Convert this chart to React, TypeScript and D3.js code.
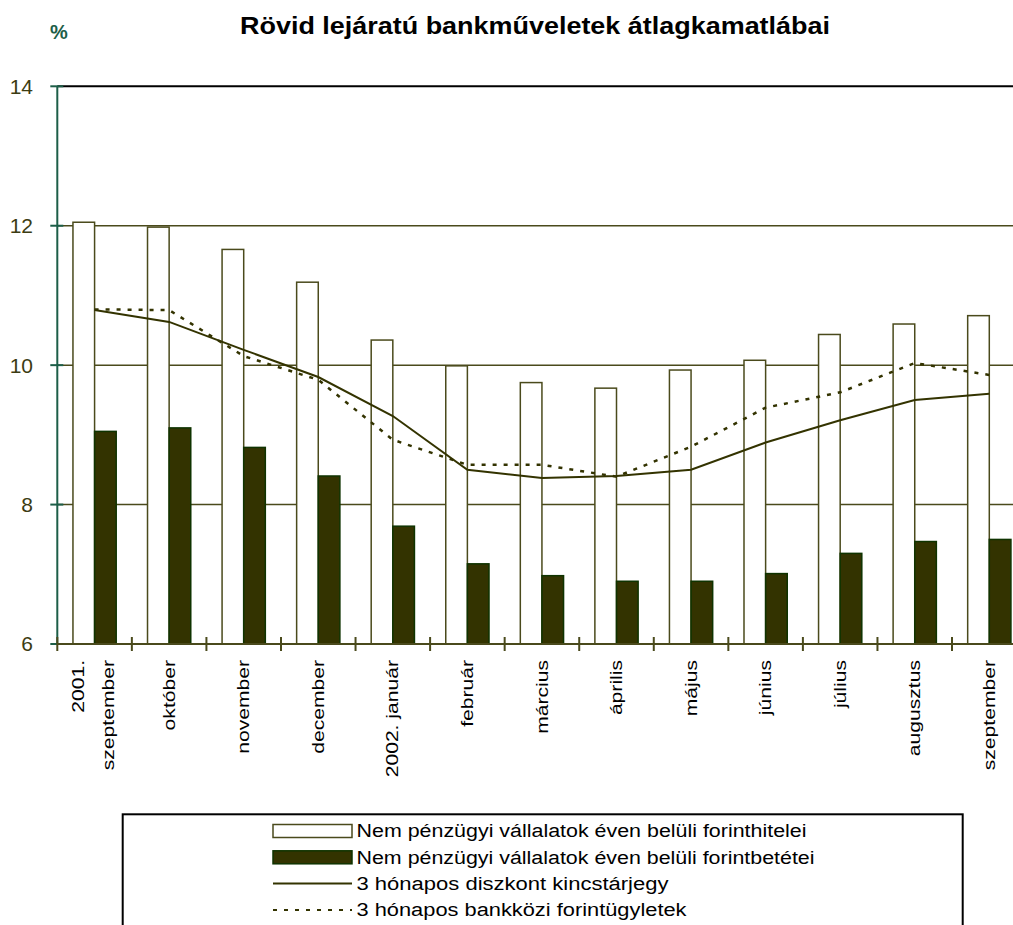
import React from "react";
import * as d3 from "d3";

const categories: string[][] = [
  ["2001.", "szeptember"],
  ["október"],
  ["november"],
  ["december"],
  ["2002. január"],
  ["február"],
  ["március"],
  ["április"],
  ["május"],
  ["június"],
  ["július"],
  ["augusztus"],
  ["szeptember"],
];

const hitelei: number[] = [12.05, 11.98, 11.66, 11.19, 10.36, 9.99, 9.75, 9.67, 9.93, 10.07, 10.44, 10.59, 10.71];
const betetei: number[] = [9.05, 9.1, 8.82, 8.41, 7.69, 7.15, 6.98, 6.9, 6.9, 7.01, 7.3, 7.47, 7.5];
const kincstarjegy: number[] = [10.79, 10.62, 10.22, 9.83, 9.27, 8.5, 8.38, 8.41, 8.5, 8.89, 9.21, 9.5, 9.59];
const bankkozi: number[] = [10.8, 10.79, 10.13, 9.79, 8.93, 8.57, 8.57, 8.4, 8.83, 9.39, 9.61, 10.03, 9.86];

const yTicks: number[] = [6, 8, 10, 12, 14];

const seriesNames: string[] = [
  "Nem pénzügyi vállalatok éven belüli forinthitelei",
  "Nem pénzügyi vállalatok éven belüli forintbetétei",
  "3 hónapos diszkont kincstárjegy",
  "3 hónapos bankközi forintügyletek",
];

const title = "Rövid lejáratú bankműveletek átlagkamatlábai";

const W = 1013;
const H = 925;
const X0 = 57.3;
const BAND = 74.56;
const OLIVE = "#4a4a1c";
const DARK = "#333300";
const DARKSTROKE = "#0f3300";
const TEAL = "#1d5e48";
const FONT = "Arial, 'Liberation Sans', sans-serif";

export default function App() {
  const idx = categories.map((_, i) => String(i));
  const x = d3.scaleBand<string>().domain(idx).range([X0, X0 + BAND * categories.length]).padding(0);
  const y = d3.scaleLinear().domain([6, 14]).range([644, 86.3]);
  const bw = x.bandwidth();
  const barW = bw * 0.29;
  const cx = (i: number) => (x(String(i)) as number) + bw / 2;

  const line = d3
    .line<number>()
    .x((_, i) => cx(i))
    .y((v) => y(v));

  const legendTop = 831;
  const legendStep = 26.3;
  const legendTextLen = [450, 458, 312, 330];

  return (
    <svg
      width={W}
      height={H}
      style={{ position: "absolute", left: 0, top: 0, background: "#fff" }}
      fontFamily={FONT}
    >
      <rect x={0} y={0} width={W} height={H} fill="#fff" />
      {/* title */}
      <text x={59} y={39} fill={TEAL} fontSize={20} fontWeight="bold" textAnchor="middle">
        %
      </text>
      <text x={240} y={34} fontSize={23} fontWeight="bold" fill="#000" textLength={590} lengthAdjust="spacingAndGlyphs">
        {title}
      </text>

      {/* gridlines */}
      {yTicks
        .filter((t) => t > 6)
        .map((t) => (
          <line
            key={t}
            x1={X0}
            x2={W}
            y1={y(t)}
            y2={y(t)}
            stroke={t === 14 ? "#000" : OLIVE}
            strokeWidth={t === 14 ? 2 : 1.5}
          />
        ))}

      {/* bars */}
      {hitelei.map((v, i) => (
        <rect
          key={"h" + i}
          x={cx(i) - barW}
          y={y(v)}
          width={barW}
          height={y(6) - y(v)}
          fill="#fff"
          stroke={OLIVE}
          strokeWidth={1.5}
        />
      ))}
      {betetei.map((v, i) => (
        <rect
          key={"b" + i}
          x={cx(i)}
          y={y(v)}
          width={barW}
          height={y(6) - y(v)}
          fill={DARK}
          stroke={DARKSTROKE}
          strokeWidth={1.5}
        />
      ))}

      {/* lines */}
      <path d={line(kincstarjegy) || ""} fill="none" stroke={DARK} strokeWidth={2} />
      <path d={line(bankkozi) || ""} fill="none" stroke={DARK} strokeWidth={2.5} strokeDasharray="4,7" />

      {/* y axis */}
      <line x1={X0} x2={X0} y1={y(14)} y2={y(6)} stroke={TEAL} strokeWidth={2} />
      {yTicks.map((t) => (
        <g key={"yt" + t}>
          <line x1={X0 - 7} x2={X0 + 6} y1={y(t)} y2={y(t)} stroke={TEAL} strokeWidth={2} />
          <text x={33} y={y(t)} dy="0.35em" textAnchor="end" fontSize={21} fill="#3c3c12">
            {t}
          </text>
        </g>
      ))}

      {/* x axis */}
      <line x1={X0} x2={W} y1={y(6)} y2={y(6)} stroke={OLIVE} strokeWidth={2} />
      {categories.map((_, i) => (
        <line
          key={"xt" + i}
          x1={x(String(i)) as number}
          x2={x(String(i)) as number}
          y1={y(6) - 7}
          y2={y(6) + 7}
          stroke={OLIVE}
          strokeWidth={2}
        />
      ))}
      {categories.map((lines, i) =>
        lines.map((ln, j) => {
          const off = lines.length === 1 ? 0 : (j - (lines.length - 1) / 2) * 30 - 1.5;
          const px = cx(i) + off;
          return (
            <text
              key={"xl" + i + "-" + j}
              transform={`translate(${px},660) rotate(-90) scale(1.32,1)`}
              textAnchor="end"
              dy="0.35em"
              fontSize={16}
              fill="#000"
            >
              {ln}
            </text>
          );
        })
      )}

      {/* legend */}
      <rect x={122.7} y={814.3} width={840} height={140} fill="#fff" stroke="#000" strokeWidth={2} />
      {seriesNames.map((name, i) => {
        const cy = legendTop + i * legendStep;
        let sym: React.ReactNode = null;
        if (i === 0)
          sym = <rect x={273} y={cy - 6.5} width={79} height={13} fill="#fff" stroke={OLIVE} strokeWidth={1.5} />;
        else if (i === 1)
          sym = <rect x={273} y={cy - 6.5} width={79} height={13} fill={DARK} stroke={DARKSTROKE} strokeWidth={1.5} />;
        else if (i === 2) sym = <line x1={273} x2={352} y1={cy} y2={cy} stroke={DARK} strokeWidth={2} />;
        else
          sym = (
            <line x1={273} x2={352} y1={cy} y2={cy} stroke={DARK} strokeWidth={2} strokeDasharray="4,7" />
          );
        return (
          <g key={"lg" + i}>
            {sym}
            <text
              x={356.5}
              y={cy}
              dy="0.35em"
              fontSize={18}
              fill="#000"
              textLength={legendTextLen[i]}
              lengthAdjust="spacingAndGlyphs"
            >
              {name}
            </text>
          </g>
        );
      })}
    </svg>
  );
}
